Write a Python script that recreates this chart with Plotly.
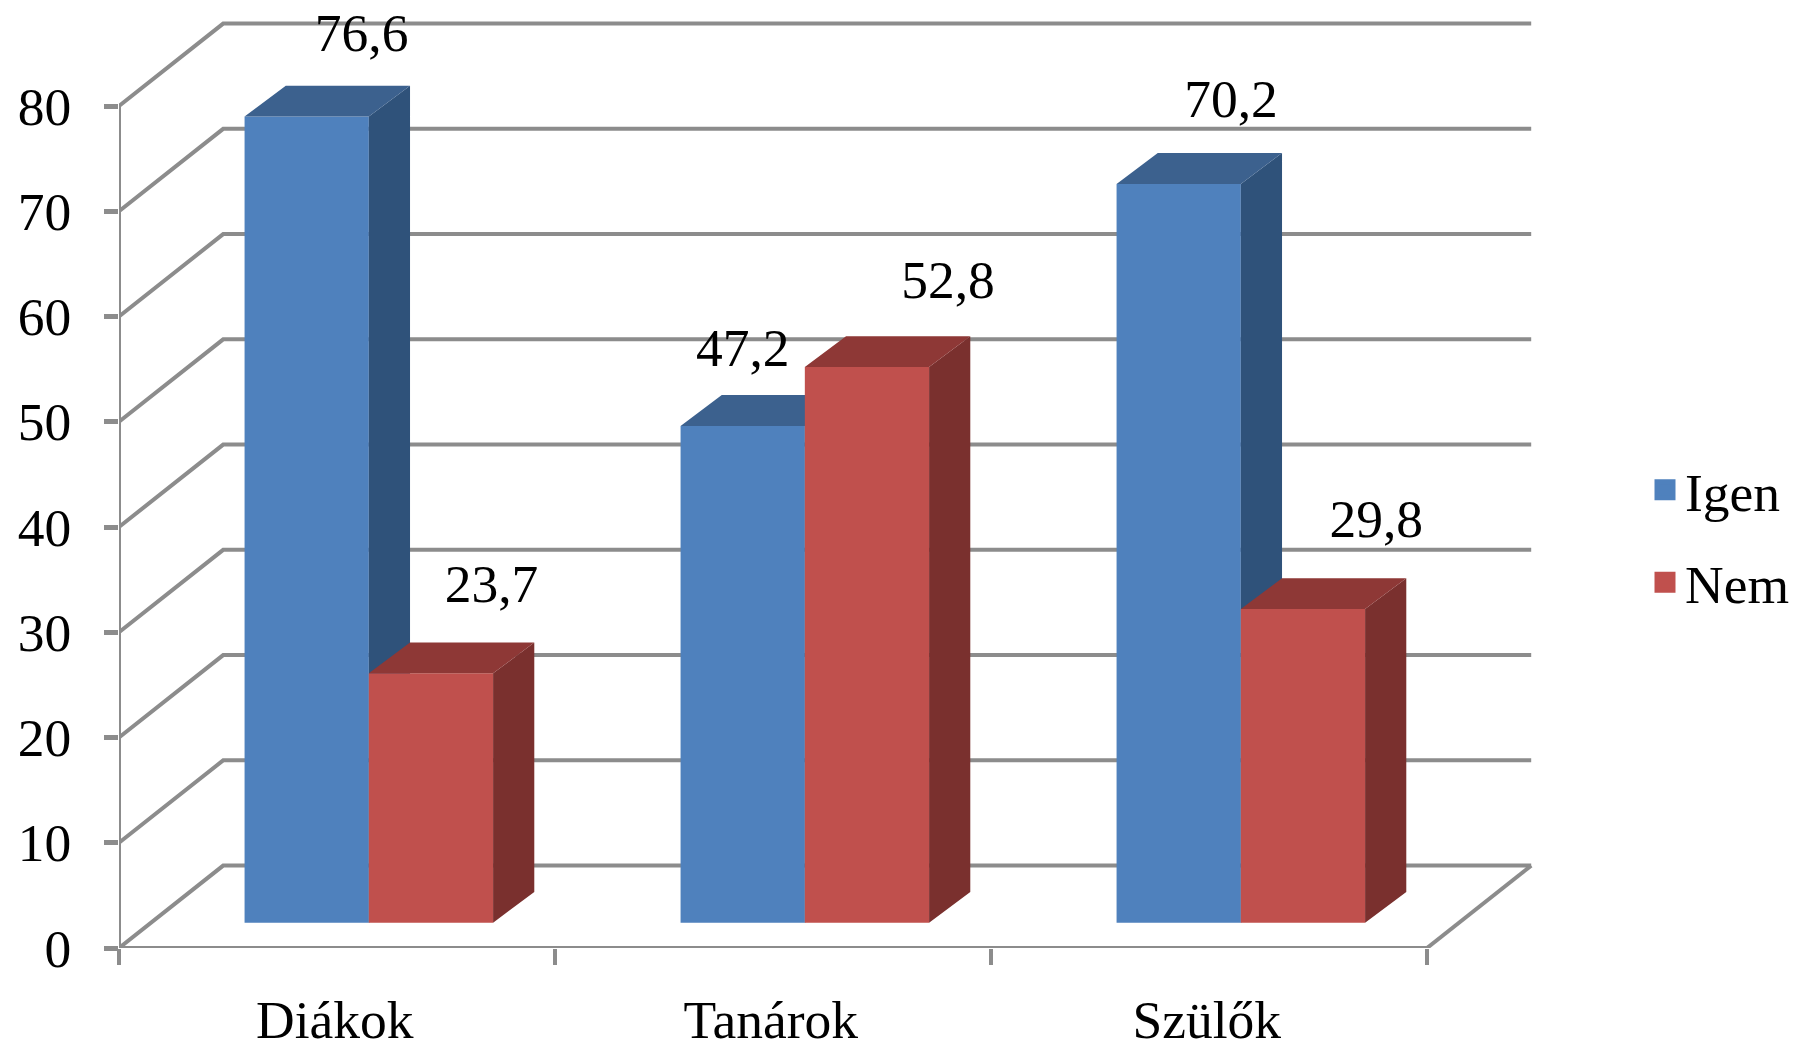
"""
3D-look column chart: Igen / Nem answers by group.
Front faces are bars, the top and side faces are filled scatter polygons.
"""

import plotly.graph_objects as go

categories = ['Diákok', 'Tanárok', 'Szülők']
igen = [76.6, 47.2, 70.2]
nem = [23.7, 52.8, 29.8]
y_ticks = [0, 10, 20, 30, 40, 50, 60, 70, 80]

# label offsets (the labels were moved by hand in the original)
igen_label_dx = [0.126, 0.0, 0.120]
nem_label_dx = [0.139, 0.186, 0.168]
igen_label_dy = [9.87, 9.33, 10.0]
nem_label_dy = [10.4, 10.2, 10.53]

# depth of the "room" and of the columns, in axis units
WALL_DX, WALL_DY = 0.239, 7.83
BAR_DX, BAR_DY = 0.0945, 2.93
BAR_BASE = 2.4
BAR_W = 0.285
BAR_START = 0.288

FONT = 'Liberation Serif'
FONT_SIZE = 53.5
GRID = '#8c8c8c'

# pixel layout of the plot area
W, H = 1794, 1051
LEFT, RIGHT, BOTTOM = 119, 1540, 948
PX_PER_UNIT = 10.525
x_range = [0, (RIGHT - LEFT) / 436]
y_range = [0, BOTTOM / PX_PER_UNIT]


def grid_trace():
    """Walls, floor and axis lines."""
    xs, ys = [], []
    n = len(categories)
    for t in y_ticks:
        xs += [0, WALL_DX, n + WALL_DX, None]
        ys += [t, t + WALL_DY, t + WALL_DY, None]
    xs += [n, n + WALL_DX, None, 0, 0, None, 0, n]
    ys += [0, WALL_DY, None, 0, y_ticks[-1], None, 0, 0]
    return go.Scatter(x=xs, y=ys, mode='lines', line=dict(color=GRID, width=4),
                      hoverinfo='skip', showlegend=False, cliponaxis=False)


def faces(x_left, values, top_color, side_color, axes):
    """Top and side faces of a series of columns."""
    top_x, top_y, side_x, side_y = [], [], [], []
    for x0, v in zip(x_left, values):
        x1 = x0 + BAR_W
        yt = BAR_BASE + v
        top_x += [x0, x0 + BAR_DX, x1 + BAR_DX, x1, x0, None]
        top_y += [yt, yt + BAR_DY, yt + BAR_DY, yt, yt, None]
        side_x += [x1, x1 + BAR_DX, x1 + BAR_DX, x1, x1, None]
        side_y += [BAR_BASE, BAR_BASE + BAR_DY, yt + BAR_DY, yt, BAR_BASE, None]
    out = []
    for xs, ys, color in [(side_x, side_y, side_color), (top_x, top_y, top_color)]:
        out.append(go.Scatter(x=xs, y=ys, mode='lines', fill='toself', fillcolor=color,
                              line=dict(width=0, color=color), hoverinfo='skip',
                              showlegend=False, xaxis=axes[0], yaxis=axes[1]))
    return out


def legend_proxy(name, color):
    # scatter markers can be drawn larger in the legend than bar swatches
    return go.Scatter(x=[None], y=[None], mode='markers', name=name, legendgroup=name,
                      marker=dict(symbol='square', size=16, color=color,
                                  line=dict(width=5, color=color)))


blue_x = [i + BAR_START for i in range(len(categories))]
red_x = [x + BAR_W for x in blue_x]

fig = go.Figure()
fig.add_trace(grid_trace())

# blue columns go on the first overlay, red on the second one so they hide the blue sides
fig.add_trace(go.Bar(x=[x + BAR_W / 2 for x in blue_x], y=igen, base=BAR_BASE, width=BAR_W,
                     marker=dict(color='#4F81BD', line=dict(width=0)), name='Igen',
                     showlegend=False, xaxis='x2', yaxis='y2'))
fig.add_traces(faces(blue_x, igen, '#3C618E', '#2F527A', ('x2', 'y2')))

fig.add_trace(go.Bar(x=[x + BAR_W / 2 for x in red_x], y=nem, base=BAR_BASE, width=BAR_W,
                     marker=dict(color='#C0504D', line=dict(width=0)), name='Nem',
                     showlegend=False, xaxis='x3', yaxis='y3'))
fig.add_traces(faces(red_x, nem, '#8E3836', '#7A302E', ('x3', 'y3')))

# data labels
label_x, label_y, label_text = [], [], []
for xs, vals, offs, lifts in [(blue_x, igen, igen_label_dx, igen_label_dy),
                              (red_x, nem, nem_label_dx, nem_label_dy)]:
    for x0, v, dx, dy in zip(xs, vals, offs, lifts):
        label_x.append(x0 + BAR_W / 2 + dx)
        label_y.append(v + dy)
        label_text.append(f'{v:.1f}'.replace('.', ','))
fig.add_trace(go.Scatter(x=label_x, y=label_y, text=label_text, mode='text',
                         textposition='middle center',
                         textfont=dict(family=FONT, size=FONT_SIZE, color='black'),
                         hoverinfo='skip', showlegend=False, cliponaxis=False,
                         xaxis='x3', yaxis='y3'))

fig.add_trace(legend_proxy('Igen', '#4F81BD'))
fig.add_trace(legend_proxy('Nem', '#C0504D'))

x_domain = [LEFT / W, RIGHT / W]
y_domain = [(H - BOTTOM) / H, 1]
overlay_x = dict(range=x_range, domain=x_domain, visible=False, overlaying='x', automargin=False)
overlay_y = dict(range=y_range, domain=y_domain, visible=False, overlaying='y', automargin=False)

fig.update_layout(
    width=W,
    height=H,
    margin=dict(l=0, r=0, t=0, b=0),
    paper_bgcolor='white',
    plot_bgcolor='white',
    barmode='overlay',
    font=dict(family=FONT, size=FONT_SIZE, color='black'),
    xaxis=dict(
        range=x_range, domain=x_domain, showgrid=False, zeroline=False, showline=False,
        automargin=False,
        tickmode='array', tickvals=[i + 0.495 for i in range(len(categories))],
        ticktext=categories, ticks='', ticklabelstandoff=35,
        minor=dict(tickmode='array', tickvals=list(range(len(categories) + 1)), ticks='outside',
                   ticklen=16, tickwidth=4, tickcolor=GRID),
    ),
    yaxis=dict(
        range=y_range, domain=y_domain, showgrid=False, zeroline=False, showline=False,
        automargin=False,
        tickmode='array', tickvals=y_ticks, ticks='outside', ticklen=14, tickwidth=5,
        tickcolor=GRID, ticklabelstandoff=22,
    ),
    xaxis2=overlay_x, yaxis2=overlay_y,
    xaxis3=overlay_x, yaxis3=overlay_y,
    legend=dict(x=1645 / W, xanchor='left', y=(H - 536.5) / H, yanchor='middle',
                font=dict(family=FONT, size=FONT_SIZE), tracegroupgap=20,
                bgcolor='rgba(0,0,0,0)', itemclick=False, itemdoubleclick=False),
)

fig.write_html("out.html", config=dict(displayModeBar=False),
               post_script="document.body.style.margin='0';")
